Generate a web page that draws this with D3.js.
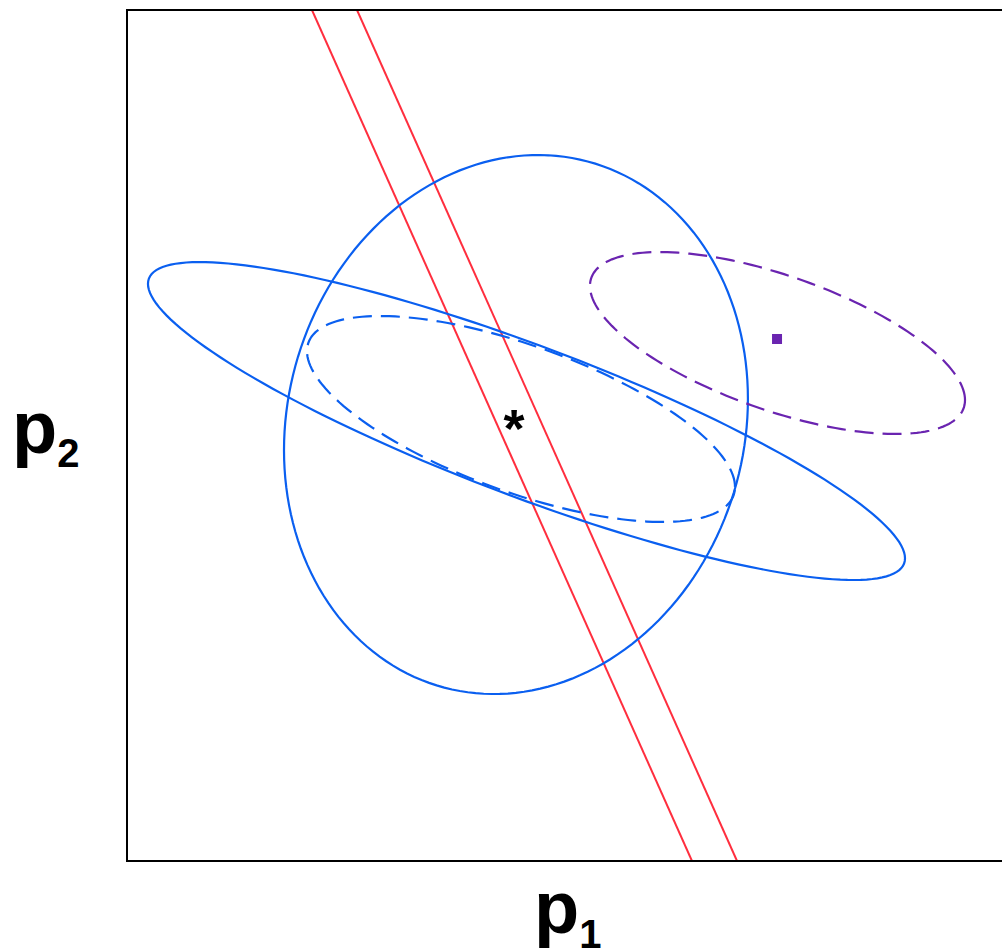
<!DOCTYPE html>
<html>
<head>
<meta charset="utf-8">
<script src="https://d3js.org/d3.v7.min.js"></script>
<style>
  body { margin: 0; background: #fff; }
  svg { display: block; }
</style>
</head>
<body>
<div class="chart"></div>
<script>
// ellipses: center, half widths and correlation (data units, p1 / p2 from 0 to 100)
var ellipseNames = ["region", "long", "inner", "shifted"];
var ellipseCx    = [43.95, 45.14, 44.52, 73.50];
var ellipseCy    = [51.29, 51.70, 51.94, 60.87];
var ellipseSx    = [26.21, 42.77, 24.18, 21.19];
var ellipseSy    = [31.67, 18.68, 12.10, 10.69];
var ellipseRho   = [0.095, -0.863, -0.659, -0.627];
var ellipseColor = ["#0a5ff0", "#0a5ff0", "#0a5ff0", "#6a24b0"];
var ellipseDash  = [null, null, "19,9", "19,9"];

// two parallel red lines, p1 value where they meet p2 = 100 and p2 = 0
var lineTopP1 = [20.90, 25.99];
var lineBotP1 = [63.84, 68.93];

var squarePoint = [73.45, 61.34];
var starPoint = [43.73, 52.06];

var w = 1002, h = 951;
var padLeft = 127, padTop = 10, padRight = 1012, padBottom = 861;

var svg = d3.select(".chart")
            .append("svg")
            .attr("width", w)
            .attr("height", h);

var xScale = d3.scaleLinear().domain([0, 100]).range([padLeft, padRight]);
var yScale = d3.scaleLinear().domain([0, 100]).range([padBottom, padTop]);

svg.append("clipPath").attr("id", "plotclip")
    .append("rect")
    .attr("x", padLeft).attr("y", padTop)
    .attr("width", padRight - padLeft).attr("height", padBottom - padTop);

var plot = svg.append("g").attr("clip-path", "url(#plotclip)");

// red lines
for (let i = 0; i < lineTopP1.length; i++) {
    plot.append("line")
        .attr("x1", xScale(lineTopP1[i]))
        .attr("y1", yScale(100))
        .attr("x2", xScale(lineBotP1[i]))
        .attr("y2", yScale(0))
        .attr("stroke", "#ff2e3e")
        .attr("stroke-width", 2);
}

// ellipses built from the 2x2 covariance (cholesky)
var line = d3.line()
    .x(function(d){ return xScale(d[0]); })
    .y(function(d){ return yScale(d[1]); });

for (let i = 0; i < ellipseNames.length; i++) {
    var sx = ellipseSx[i], sy = ellipseSy[i], r = ellipseRho[i];
    var pts = d3.range(0, 361, 2).map(function(a){
        var t = a * Math.PI / 180;
        var u = Math.cos(t), v = Math.sin(t);
        return [ellipseCx[i] + sx * u,
                ellipseCy[i] + sy * (r * u + Math.sqrt(1 - r * r) * v)];
    });
    plot.append("path")
        .attr("class", "ellipse " + ellipseNames[i])
        .attr("d", line(pts))
        .attr("fill", "none")
        .attr("stroke", ellipseColor[i])
        .attr("stroke-width", 2.2)
        .attr("stroke-dasharray", ellipseDash[i]);
}

// purple square
plot.append("rect")
    .attr("x", xScale(squarePoint[0]) - 5)
    .attr("y", yScale(squarePoint[1]) - 5)
    .attr("width", 10)
    .attr("height", 10)
    .attr("fill", "#6a24b0");

// asterisk
plot.append("text")
    .attr("x", xScale(starPoint[0]))
    .attr("y", yScale(starPoint[1]) + 29)
    .attr("text-anchor", "middle")
    .attr("font-family", "Liberation Sans, Arial, sans-serif")
    .attr("font-weight", "bold")
    .attr("font-size", 54)
    .text("*");

// frame
svg.append("rect")
    .attr("x", padLeft).attr("y", padTop)
    .attr("width", padRight - padLeft).attr("height", padBottom - padTop)
    .attr("fill", "none")
    .attr("stroke", "black")
    .attr("stroke-width", 2);

// axis labels
var xl = svg.append("text")
    .attr("x", 534)
    .attr("y", 933)
    .attr("font-family", "Liberation Sans, Arial, sans-serif")
    .attr("font-weight", "bold")
    .attr("font-size", 74);
xl.append("tspan").text("p");
xl.append("tspan").attr("font-size", 40).attr("dy", 15).text("1");

var yl = svg.append("text")
    .attr("x", 12)
    .attr("y", 453)
    .attr("font-family", "Liberation Sans, Arial, sans-serif")
    .attr("font-weight", "bold")
    .attr("font-size", 74);
yl.append("tspan").text("p");
yl.append("tspan").attr("font-size", 40).attr("dy", 14).text("2");
</script>
</body>
</html>
